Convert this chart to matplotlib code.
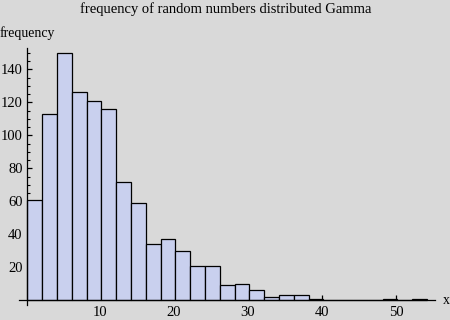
import numpy as np
import matplotlib
matplotlib.use("Agg")
import matplotlib.pyplot as plt

# === Histogram data ===
bin_start = 0.2
bin_width = 2.0
counts = [61, 113, 150, 126, 121, 116, 72, 59, 34, 37, 30, 21, 21, 9,
          10, 6, 2, 3, 3, 1, 0, 0, 0, 0, 1, 0, 1]
x_ticks = [10, 20, 30, 40, 50]
y_ticks = [20, 40, 60, 80, 100, 120, 140]

title = "frequency of random numbers distributed Gamma"
x_label = "x"
y_label = "frequency"

bg = "#d9d9d9"
bar_color = "#c9d0ee"
plt.rcParams['font.family'] = ['Liberation Serif', 'DejaVu Serif']

edges = bin_start + bin_width * np.arange(len(counts))

fig = plt.figure(figsize=(4.5, 3.2), dpi=100, facecolor=bg)
ax = fig.add_axes([0, 0, 1, 1], facecolor=bg)

ax.bar(edges, counts, width=bin_width, align='edge',
       color=bar_color, edgecolor='black', linewidth=0.9, zorder=2)

# pixel mapping of the original: x 0 -> 26px, 7.4 px per unit; y 0 -> 300.3px, 1.65 px per unit
ax.set_xlim(-26 / 7.4, (450 - 26) / 7.4)
ax.set_ylim(-(320 - 300.3) / 1.65, 300.3 / 1.65)

for s in ['top', 'right']:
    ax.spines[s].set_visible(False)
ax.spines['left'].set_position(('data', bin_start))
ax.spines['bottom'].set_position(('data', 0))
ax.spines['left'].set_bounds(-3, 152.7)
ax.spines['bottom'].set_bounds(-1, 55.3)
for s in ['left', 'bottom']:
    ax.spines[s].set_linewidth(0.9)
    ax.spines[s].set_zorder(3)

ax.set_xticks(x_ticks)
ax.set_yticks(y_ticks)
ax.set_yticks(np.arange(5, 155, 5), minor=True)
ax.tick_params(axis='both', which='major', direction='in', length=3.5,
               width=0.9, labelsize=10.5, pad=3.5)
ax.tick_params(axis='y', which='minor', direction='in', length=1.8, width=0.8)
ax.tick_params(axis='x', which='major', pad=4)

fig.text(226 / 450, 1 - 9 / 320, title, ha='center', va='center', fontsize=10.5)
fig.text(0.0, 1 - 33 / 320, y_label, ha='left', va='center', fontsize=10)
fig.text(446 / 450, 1 - 300 / 320, x_label, ha='center', va='center', fontsize=10)

fig.savefig("out.png", dpi=100, facecolor=bg)
